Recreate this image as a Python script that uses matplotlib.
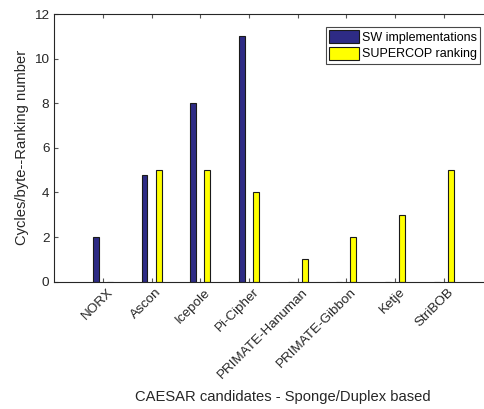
import numpy as np
import matplotlib
matplotlib.use('Agg')
import matplotlib.pyplot as plt
from matplotlib.transforms import ScaledTranslation

plt.rcParams['font.family'] = ['Liberation Sans', 'DejaVu Sans']

candidates = ['NORX', 'Ascon', 'Icepole', 'Pi-Cipher', 'PRIMATE-Hanuman',
              'PRIMATE-Gibbon', 'Ketje', 'StriBOB']
sw_impl = [2, 4.8, 8, 11, 0, 0, 0, 0]
supercop = [0, 5, 5, 4, 1, 2, 3, 5]

fig = plt.figure(figsize=(4.85, 4.09), dpi=100)
# axes runs past the right edge, like the cropped original
ax = fig.add_axes([54.3 / 485, 1 - 281.7 / 409, 438.3 / 485, 267.7 / 409])

x = np.arange(1, len(candidates) + 1)
w = 0.12
ax.bar(x - 0.148, sw_impl, w, color='#2e2b85', edgecolor='#1a1a1a', linewidth=0.8,
       label='SW implementations')
ax.bar(x + 0.142, supercop, w, color='#ffff00', edgecolor='#1a1a1a', linewidth=0.8,
       label='SUPERCOP ranking')

ax.set_xlim(0, 9)
ax.set_ylim(0, 12)
ax.set_xticks(x)
ax.set_xticklabels([])
# rotated labels, nudged right of the tick like the matlab output
off = ax.get_xaxis_transform() + ScaledTranslation(4 / 100, -4.5 / 100, fig.dpi_scale_trans)
for xi, name in zip(x, candidates):
    ax.text(xi, 0, name, transform=off, rotation=45, ha='right', va='top',
            rotation_mode='anchor', fontsize=9.7, color='#262626')
ax.set_yticks(range(0, 13, 2))
ax.tick_params(axis='y', labelsize=9.7, labelcolor='#262626')
ax.tick_params(direction='in', top=True, length=3, color='#555555', width=0.8)
for s in ['left', 'bottom', 'top', 'right']:
    ax.spines[s].set_color('#262626')
    ax.spines[s].set_linewidth(0.8)

ax.set_ylabel('Cycles/byte--Ranking number', fontsize=10.6, color='#262626', labelpad=4)
ax.set_xlabel('CAESAR candidates - Sponge/Duplex based', fontsize=10.6, color='#262626')
ax.xaxis.set_label_coords((283 - 54.3) / 438.3, -(397 - 281.7) / 267.7)
ax.xaxis.label.set_va('center')

leg = ax.legend(loc='upper left', bbox_to_anchor=((326 - 54.3) / 438.3, 1 - 13 / 267.7),
                fontsize=9, frameon=True, fancybox=False, edgecolor='#1a1a1a',
                handlelength=2.4, handleheight=1.2, borderpad=0.25, labelspacing=0.25,
                handletextpad=0.2, borderaxespad=0)
leg.get_frame().set_linewidth(0.8)

fig.savefig('out.png', dpi=100)
